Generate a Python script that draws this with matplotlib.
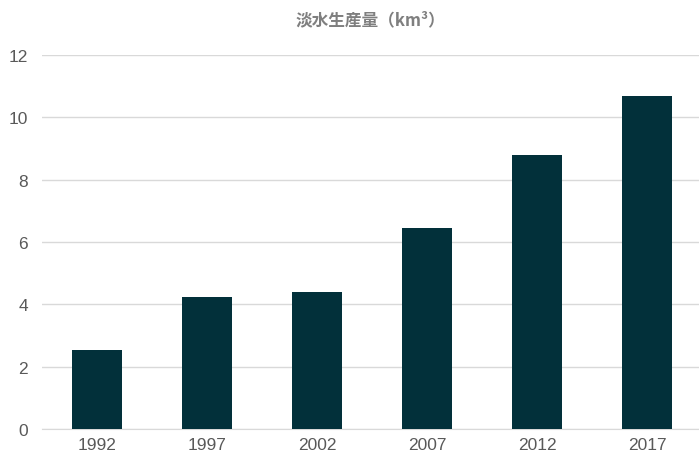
import matplotlib.pyplot as plt

# データ
years = ["1992", "1997", "2002", "2007", "2012", "2017"]
production = [2.53, 4.23, 4.40, 6.45, 8.79, 10.68]

plt.rcParams['font.family'] = ['Liberation Sans', 'DejaVu Sans']

fig = plt.figure(figsize=(6.99, 4.56), dpi=100)
ax = fig.add_axes([42 / 699, 26 / 456, 660 / 699, 374 / 456])

ax.bar(range(len(years)), production, width=0.45, color="#02303a", zorder=3)

ax.set_xlim(-0.5, len(years) - 0.5)
ax.set_ylim(0, 12)
ax.set_yticks(range(0, 13, 2))
ax.set_xticks(range(len(years)))
ax.set_xticklabels(years)

ax.grid(axis="y", color="#d9d9d9", linewidth=1, zorder=0)
for s in ["top", "right", "left"]:
    ax.spines[s].set_visible(False)
ax.spines["bottom"].set_color("#d9d9d9")
ax.tick_params(axis="both", length=0, labelsize=12.5, labelcolor="#595959")
ax.tick_params(axis="y", pad=10)
ax.tick_params(axis="x", pad=6)

fig.text(0.53, 0.955, "淡水生産量（km³）", ha="center", va="center",
         fontsize=12, fontweight="bold", color="#7f7f7f",
         family=["Noto Sans CJK JP", "DejaVu Sans"])

fig.savefig("out.png", dpi=100)
